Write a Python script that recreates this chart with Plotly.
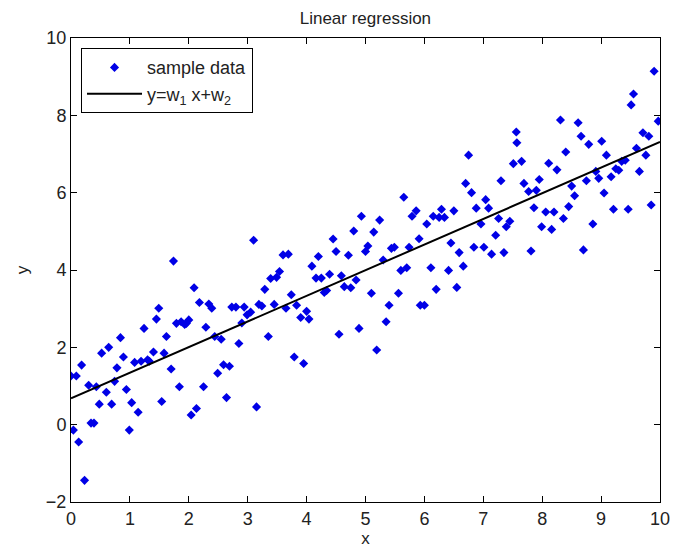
import plotly.graph_objects as go

x_data = [0.00,0.09,0.04,0.18,0.13,0.23,0.30,0.34,0.39,0.43,0.48,0.52,0.60,0.64,0.69,0.74,0.78,0.84,0.89,0.94,
          0.99,1.03,1.08,1.14,1.19,1.24,1.30,1.33,1.40,1.45,1.49,1.54,1.58,1.62,1.70,1.74,1.79,1.87,1.93,1.96,
          2.00,1.84,2.04,2.09,2.13,2.18,2.25,2.29,2.34,2.39,2.44,2.49,
          3.10,3.60,3.69,3.54,3.39,3.49,3.29,2.73,2.80,2.94,2.99,3.05,3.19,3.24,3.45,2.90,2.55,2.85,3.35,3.74,
          3.65,3.83,3.90,4.00,4.04,3.79,3.95,2.59,2.69,2.64,3.15,4.09,4.20,4.16,4.25,4.45,4.50,4.39,4.30,4.34,
          4.59,4.64,4.75,4.71,4.80,4.84,5.00,5.04,4.55,4.89,
          7.57,6.75,7.51,7.30,6.70,6.80,7.04,6.88,7.09,5.65,5.86,5.79,6.15,6.25,6.34,6.29,6.50,6.04,4.93,5.24,
          5.14,5.44,5.49,5.74,5.91,5.30,5.60,5.70,5.10,5.56,5.40,5.93,6.00,5.35,5.19,6.11,6.20,6.41,6.45,6.59,
          6.66,6.55,6.84,7.01,6.96,7.14,7.21,7.26,7.39,7.45,7.35,
          9.90,9.55,9.51,9.97,9.71,9.81,9.60,9.76,9.65,9.85,9.46,9.35,9.41,9.25,9.30,9.17,9.05,9.09,9.01,8.96,
          8.91,9.21,8.79,8.75,8.86,8.70,8.66,8.61,8.55,8.50,8.45,8.36,8.40,8.31,8.25,8.20,8.06,8.16,8.11,7.99,
          7.95,7.90,7.86,7.81,7.77,7.69,7.65,7.56]
y_data = [1.26,1.26,-0.14,1.54,-0.45,-1.44,1.02,0.04,0.04,0.98,0.53,1.85,0.84,2.00,0.53,1.12,1.47,2.25,1.75,0.91,
          -0.14,0.57,1.61,0.32,1.64,2.49,1.68,1.64,1.88,2.73,3.01,0.60,1.85,2.28,1.44,4.23,2.62,2.66,2.59,2.62,
          2.71,0.98,0.25,3.54,0.42,3.16,0.98,2.52,3.12,3.01,2.28,1.33,
          4.77,4.39,4.41,3.96,3.78,3.81,3.50,3.04,3.04,3.04,2.84,2.91,3.11,3.07,3.11,2.63,2.21,2.10,2.28,3.36,
          3.01,3.09,2.77,2.93,2.73,1.75,1.58,1.55,1.51,0.70,0.46,4.10,4.35,3.79,3.79,4.80,4.48,3.89,3.42,3.47,
          3.85,3.57,3.54,4.38,5.01,3.74,4.48,4.62,2.34,2.49,
          7.29,6.97,6.75,6.31,6.24,6.00,5.82,5.60,5.60,5.88,5.53,5.39,5.39,5.36,5.36,5.57,5.53,5.19,5.39,5.29,
          4.98,4.56,4.59,4.59,4.81,4.26,3.99,4.06,3.40,3.40,3.09,3.09,3.09,2.66,1.93,4.06,3.50,3.99,4.70,4.45,
          4.10,3.55,4.59,4.59,5.19,4.41,4.90,5.33,5.12,5.26,4.45,
          9.14,8.55,8.27,7.85,7.55,7.46,7.15,6.97,6.55,5.68,5.57,6.81,6.84,6.62,6.58,6.41,5.99,6.97,7.33,6.37,
          6.55,5.57,7.25,6.31,5.19,4.52,7.46,7.81,5.92,6.17,5.64,5.33,7.05,7.88,6.59,5.50,5.50,5.05,6.76,5.12,
          6.34,6.06,5.61,4.49,6.03,6.24,6.81,7.57]

line_x = [0, 10]
line_y = [0.68, 7.31]

x_ticks = [0, 1, 2, 3, 4, 5, 6, 7, 8, 9, 10]
y_ticks = [-2, 0, 2, 4, 6, 8, 10]

FONT = "Liberation Sans, Arial, sans-serif"
FS = 18

fig = go.Figure()
fig.add_trace(go.Scatter(
    x=x_data, y=y_data, mode="markers", name="sample data",
    marker=dict(symbol="diamond", size=7, color="#0000e6", line=dict(width=0)),
))
fig.add_trace(go.Scatter(
    x=line_x, y=line_y, mode="lines", name="y=w<sub>1</sub> x+w<sub>2</sub>",
    line=dict(color="black", width=2),
))

axis_common = dict(
    showgrid=False, zeroline=False, showline=True, linecolor="black", linewidth=1,
    mirror="ticks", ticks="inside", ticklen=6, tickcolor="black", tickwidth=1,
    tickfont=dict(family=FONT, size=FS, color="#222"), automargin=False,
)

fig.update_layout(
    width=683, height=550,
    margin=dict(l=71, r=23, t=38, b=48, autoexpand=False),
    paper_bgcolor="white", plot_bgcolor="white",
    font=dict(family=FONT, size=FS, color="#222"),
    title=dict(text="Linear regression", x=0.535, xanchor="center", y=0.967, yanchor="middle",
               font=dict(family=FONT, size=FS - 1, color="#222")),
    xaxis=dict(range=[0, 10], tickvals=x_ticks, title=dict(text="x", standoff=4,
               font=dict(family=FONT, size=FS - 1)), **axis_common),
    yaxis=dict(range=[-2, 10], tickvals=y_ticks, title=dict(text="y", standoff=12,
               font=dict(family=FONT, size=FS - 1)), **axis_common),
    legend=dict(x=0.017, y=0.978, xanchor="left", yanchor="top",
                bordercolor="black", borderwidth=1, bgcolor="white",
                font=dict(family=FONT, size=FS, color="#222"),
                itemwidth=55, tracegroupgap=0),
    showlegend=True,
)

fig.write_html("out.html", config={"displayModeBar": False},
               post_script="document.body.style.margin='0';")
